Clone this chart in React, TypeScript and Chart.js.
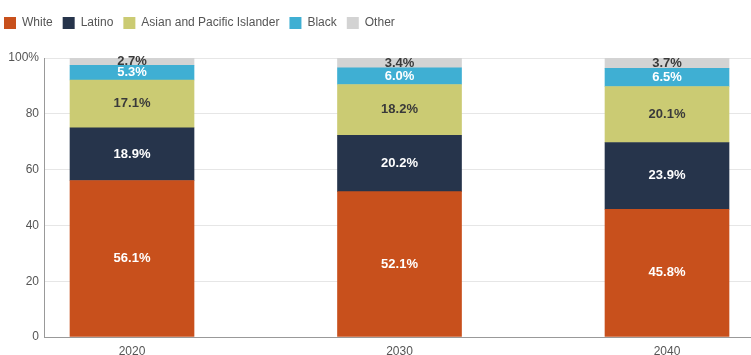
import React, { useEffect, useRef } from "react";
import { Chart, registerables } from "chart.js";

Chart.register(...registerables);

const categories = ["2020", "2030", "2040"];
const seriesNames = ["White", "Latino", "Asian and Pacific Islander", "Black", "Other"];
const white = [56.1, 52.1, 45.8];
const latino = [18.9, 20.2, 23.9];
const asian = [17.1, 18.2, 20.1];
const black = [5.3, 6.0, 6.5];
const other = [2.7, 3.4, 3.7];
const yTicks = [0, 20, 40, 60, 80, 100];

const colors = ["#C8501C", "#26344B", "#CBCB73", "#3FAFD3", "#D3D3D3"];
const labelColors = ["#ffffff", "#ffffff", "#3a3a3a", "#ffffff", "#3a3a3a"];

const labelPlugin = {
  id: "segLabels",
  afterDatasetsDraw(chart: any) {
    const ctx = chart.ctx;
    ctx.save();
    ctx.font = "bold 13px 'Liberation Sans', Arial, sans-serif";
    ctx.textAlign = "center";
    ctx.textBaseline = "middle";
    chart.data.datasets.forEach((ds: any, di: number) => {
      const meta = chart.getDatasetMeta(di);
      meta.data.forEach((el: any, i: number) => {
        const v = ds.data[i].y;
        const cy = (el.y + el.base) / 2;
        ctx.fillStyle = labelColors[di];
        ctx.fillText(v.toFixed(1) + "%", el.x, cy);
      });
    });
    ctx.restore();
  },
};

const legendHeightPlugin = {
  id: "legendHeight",
  beforeInit(chart: any) {
    const legend = chart.legend;
    if (!legend) return;
    const orig = legend.fit;
    legend.fit = function () {
      orig.call(this);
      this.height = 51;
    };
  },
  afterLayout(chart: any) {
    const legend = chart.legend;
    if (!legend) return;
    legend.left -= 6;
    legend.right -= 6;
  },
};

export default function App() {
  const ref = useRef<HTMLCanvasElement | null>(null);
  useEffect(() => {
    document.body.style.margin = "0";
    const sets = [white, latino, asian, black, other];
    const chart = new Chart(ref.current as HTMLCanvasElement, {
      type: "bar",
      data: {
        datasets: sets.map((arr, di) => ({
          label: seriesNames[di],
          data: arr.map((v, i) => ({ x: Number(categories[i]), y: v })),
          backgroundColor: colors[di],
          borderWidth: 0,
          barThickness: 124,
        })),
      },
      options: {
        animation: false,
        responsive: false,
        devicePixelRatio: 1,
        layout: { padding: { left: 0, right: 0, top: 7, bottom: 0 } },
        plugins: {
          legend: {
            position: "top",
            align: "start",
            labels: {
              boxWidth: 12,
              boxHeight: 12,
              padding: 10,
              color: "#555",
              font: { size: 12, family: "'Liberation Sans', Arial, sans-serif" },
            },
          },
          tooltip: { enabled: false },
        },
        scales: {
          x: {
            type: "linear",
            stacked: true,
            offset: false,
            min: 2016.71,
            max: 2043.14,
            afterBuildTicks(scale: any) {
              scale.ticks = categories.map((c) => ({ value: Number(c) }));
            },
            afterFit(scale: any) {
              scale.height = 18;
            },
            grid: { display: false, drawTicks: false, offset: false },
            border: { display: true, color: "#999", width: 1 },
            ticks: {
              padding: 7,
              color: "#555",
              font: { size: 12, family: "'Liberation Sans', Arial, sans-serif" },
              callback: (v: any) => String(v),
              maxRotation: 0,
            },
          },
          y: {
            stacked: true,
            min: 0,
            max: 100,
            afterBuildTicks(scale: any) {
              scale.ticks = yTicks.map((t) => ({ value: t }));
            },
            afterFit(scale: any) {
              scale.width = 44;
            },
            grid: { color: "#e6e6e6", drawTicks: false },
            border: { display: true, color: "#999", width: 1 },
            ticks: {
              padding: 5,
              color: "#555",
              font: { size: 12, family: "'Liberation Sans', Arial, sans-serif" },
              callback: (v: any) => (v === 100 ? "100%" : String(v)),
            },
          },
        },
      },
      plugins: [labelPlugin, legendHeightPlugin],
    } as any);
    return () => chart.destroy();
  }, []);
  return <canvas ref={ref} width={751} height={355} style={{ display: "block" }} />;
}
